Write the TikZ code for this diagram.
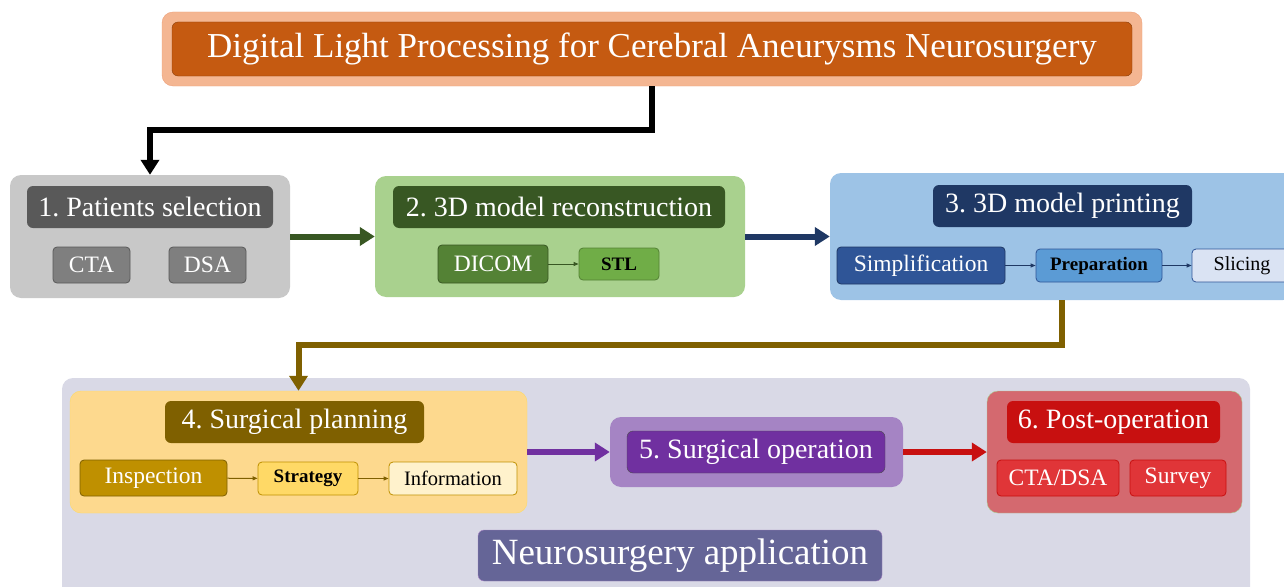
\documentclass[tikz,border=0pt]{standalone}
\usepackage{fontspec}
\setmainfont{Liberation Serif}
\usepackage{tikz}
\usetikzlibrary{arrows, arrows.meta}
\frenchspacing
\definecolor{titleout}{HTML}{F4B692}
\definecolor{titleedge}{HTML}{EDA07A}
\definecolor{titlein}{HTML}{C55A11}
\definecolor{grayout}{HTML}{C8C8C8}
\definecolor{grayhead}{HTML}{595959}
\definecolor{grayitem}{HTML}{7F7F7F}
\definecolor{greenout}{HTML}{A9D18E}
\definecolor{greenhead}{HTML}{385723}
\definecolor{greenitem}{HTML}{548235}
\definecolor{greenlite}{HTML}{70AD47}
\definecolor{blueout}{HTML}{9DC3E6}
\definecolor{bluehead}{HTML}{1F3864}
\definecolor{blueitem}{HTML}{2F5597}
\definecolor{bluemid}{HTML}{5B9BD5}
\definecolor{bluelite}{HTML}{DAE3F3}
\definecolor{appout}{HTML}{D9D9E6}
\definecolor{apphead}{HTML}{656597}
\definecolor{yellowout}{HTML}{FDD98E}
\definecolor{yellowhead}{HTML}{7F6000}
\definecolor{yellowitem}{HTML}{BF9000}
\definecolor{yellowmid}{HTML}{FFD966}
\definecolor{yellowlite}{HTML}{FFF2CC}
\definecolor{purpleout}{HTML}{A584C4}
\definecolor{purplehead}{HTML}{7030A0}
\definecolor{redout}{HTML}{D4696F}
\definecolor{redhead}{HTML}{C81010}
\definecolor{reditem}{HTML}{E03538}
\tikzstyle{stage} = [rectangle, rounded corners=11pt, inner sep=0pt]
\tikzstyle{head} = [rectangle, rounded corners=6pt, inner sep=0pt, text=white, font=\fontsize{28}{30}\selectfont]
\tikzstyle{item} = [rectangle, rounded corners=4pt, inner sep=0pt, line width=0.8pt, font=\fontsize{23.5}{25}\selectfont]
\tikzstyle{bitem} = [item, font=\fontsize{19}{21}\selectfont\bfseries]
\tikzstyle{arrow} = [line width=6pt,->,>={Triangle[length=15pt,width=18pt]}]
\tikzstyle{link} = [line width=1pt,->,>={Triangle[length=5pt,width=4pt]}]

\begin{document}
\begin{tikzpicture}[x=1pt, y=-1pt]
	\clip (0,0) rectangle (1284,586);
	\useasboundingbox (0,0) rectangle (1284,586);
	% title
	\node (title) [stage, fill=titleout, draw=titleedge, minimum width=980pt, minimum height=74pt] at (652,49) {};
	\node (titletext) [head, fill=titlein, draw=titlein!70!black, minimum width=960pt, minimum height=54pt, font=\fontsize{35}{37}\selectfont] at (652,49) {Digital Light Processing for Cerebral Aneurysms Neurosurgery};
	% step 1
	\node (sel) [stage, fill=grayout, minimum width=280pt, minimum height=123pt] at (150,236.5) {};
	\node (selhead) [head, fill=grayhead, minimum width=246pt, minimum height=42pt] at (150,207) {1. Patients selection};
	\node (cta) [item, fill=grayitem, draw=grayhead, text=white, minimum width=77pt, minimum height=36pt] at (91.5,265) {CTA};
	\node (dsa) [item, fill=grayitem, draw=grayhead, text=white, minimum width=77pt, minimum height=36pt] at (207.5,265) {DSA};
	% step 2
	\node (rec) [stage, fill=greenout, minimum width=370pt, minimum height=121pt] at (560,236.5) {};
	\node (rechead) [head, fill=greenhead, minimum width=332pt, minimum height=42pt] at (559,207) {2. 3D model reconstruction};
	\node (dicom) [item, fill=greenitem, draw=greenhead, text=white, minimum width=110pt, minimum height=38pt] at (493,264) {DICOM};
	\node (stl) [bitem, fill=greenlite, draw=greenitem, minimum width=80pt, minimum height=32pt] at (619,264) {STL};
	% step 3
	\node (prt) [stage, fill=blueout, minimum width=464pt, minimum height=127pt] at (1062,236.5) {};
	\node (prthead) [head, fill=bluehead, minimum width=259pt, minimum height=42pt] at (1062.5,206) {3. 3D model printing};
	\node (simp) [item, fill=blueitem, draw=bluehead, text=white, minimum width=168pt, minimum height=37pt] at (921,265.5) {Simplification};
	\node (prep) [bitem, fill=bluemid, draw=blueitem, minimum width=126pt, minimum height=33pt] at (1099,265.5) {Preparation};
	\node (slic) [item, fill=bluelite, draw=blueitem, minimum width=100pt, minimum height=33pt, font=\fontsize{20}{22}\selectfont] at (1242,265.5) {Slicing};
	% application
	\node (app) [stage, fill=appout, minimum width=1188pt, minimum height=222pt] at (656,489) {};
	\node (apphead) [head, fill=apphead, draw=purplehead!60, minimum width=404pt, minimum height=51pt, font=\fontsize{37}{39}\selectfont] at (680,555.5) {Neurosurgery application};
	% step 4
	\node (plan) [stage, fill=yellowout, draw=yellowmid, minimum width=457pt, minimum height=122pt] at (298.5,452) {};
	\node (planhead) [head, fill=yellowhead, minimum width=259pt, minimum height=42pt] at (294.5,422) {4. Surgical planning};
	\node (insp) [item, fill=yellowitem, draw=yellowhead, text=white, minimum width=147pt, minimum height=36pt] at (153.5,478) {Inspection};
	\node (strat) [bitem, fill=yellowmid, draw=yellowitem, minimum width=100pt, minimum height=33pt] at (308,478.5) {Strategy};
	\node (info) [item, fill=yellowlite, draw=yellowitem, minimum width=128pt, minimum height=33pt, font=\fontsize{20.5}{22}\selectfont] at (453,478.5) {Information};
	% step 5
	\node (oper) [stage, fill=purpleout, minimum width=293pt, minimum height=70pt] at (756.5,452) {};
	\node (operhead) [head, fill=purplehead, draw=black!70, minimum width=258pt, minimum height=42pt] at (756,452) {5. Surgical operation};
	% step 6
	\node (post) [stage, fill=redout, draw=greenlite!60, minimum width=255pt, minimum height=122pt] at (1114.5,452) {};
	\node (posthead) [head, fill=redhead, minimum width=213pt, minimum height=42pt] at (1113.5,422) {6. Post-operation};
	\node (ctadsa) [item, fill=reditem, draw=redhead, text=white, minimum width=122pt, minimum height=36pt] at (1058,478) {CTA/DSA};
	\node (surv) [item, fill=reditem, draw=redhead, text=white, minimum width=96pt, minimum height=36pt] at (1178,478) {Survey};
	% connectors
	\draw [arrow] (title.south) -- ++(0,44) -| (sel.north);
	\draw [arrow, greenhead] (sel) -- (rec);
	\draw [arrow, bluehead] (rec) -- (prt);
	\draw [arrow, yellowhead] (prt.south) -- ++(0,45) -| (plan.north);
	\draw [arrow, purplehead] (plan) -- (oper);
	\draw [arrow, redhead] (oper) -- (post);
	\draw [link, greenhead] (dicom) -- (stl);
	\draw [link, bluehead] (simp) -- (prep);
	\draw [link, bluehead] (prep) -- (slic);
	\draw [link, yellowhead] (insp) -- (strat);
	\draw [link, yellowhead] (strat) -- (info);
\end{tikzpicture}
\end{document}
